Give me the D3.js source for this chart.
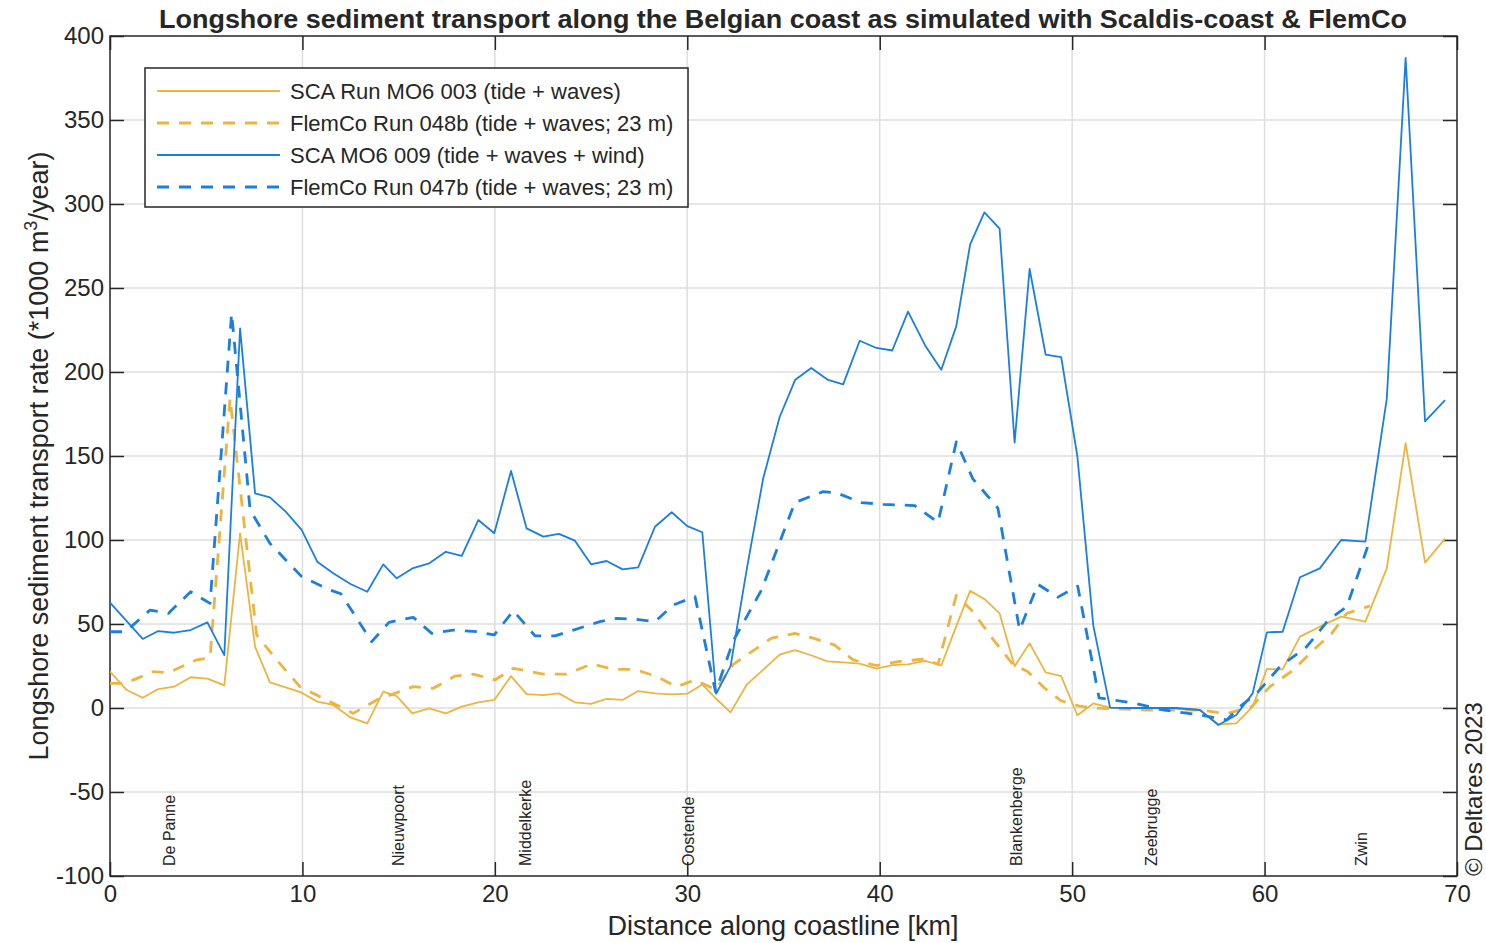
<!DOCTYPE html>
<html>
<head>
<meta charset="utf-8">
<script src="https://cdn.jsdelivr.net/npm/d3@7"></script>
<style>
  body { margin: 0; background: #fff; }
  text { font-family: "Liberation Sans", Arial, sans-serif; fill: #262626; }
</style>
</head>
<body>
<svg width="1486" height="943"></svg>
<script>
// chart values
const scaKm = [0, 0.87, 1.70, 2.51, 3.33, 4.19, 5.06, 5.94, 6.76, 7.54, 8.31, 9.13, 9.96, 10.77, 11.60, 12.5, 13.37, 14.20, 14.90, 15.71,
  16.59, 17.45, 18.28, 19.14, 19.97, 20.84, 21.65, 22.52, 23.33, 24.16, 25.0, 25.81, 26.64, 27.45, 28.32, 29.19, 30.0, 30.78, 31.5, 32.25,
  33.1, 33.94, 34.8, 35.6, 36.44, 37.28, 38.1, 38.96, 39.83, 40.65, 41.47, 42.36, 43.2, 43.98, 44.7, 45.44, 46.23, 47.01, 47.79, 48.62,
  49.43, 50.27, 51.1, 51.97, 52.8, 53.7, 54.5, 55.4, 56.64, 57.6, 58.53, 59.38, 60.12, 60.94, 61.84, 62.87, 63.98, 65.24, 66.35, 67.33,
  68.34, 69.38];
const scaWaves = [21.6, 10.7, 6.1, 11.3, 12.7, 18.3, 17.5, 13.5, 104, 36.5, 15.3, 12.3, 9.1, 3.8, 1.8, -5.6, -9.1, 9.7, 7.1, -3.2,
  -0.2, -3.2, 0.8, 3.4, 4.8, 19, 8.3, 7.7, 8.7, 3.4, 2.4, 5.4, 4.8, 10.1, 8.7, 8.1, 8.5, 14, 5.5, -2.6,
  14.1, 22.7, 31.8, 34.4, 31.4, 27.7, 27.1, 26.4, 23.4, 25.5, 26, 28.1, 25.3, 48.7, 69.7, 64.9, 56.3, 24.9, 38.5, 21.2,
  19, -4.3, 2.7, 0.2, 0, 0, 0, -0.5, -1.2, -9.7, -9.1, 0.8, 23.2, 23, 42.5, 48.4, 54.4, 51.4, 83.1, 157.6,
  86.5, 100.8];
const scaWind = [62.7, 51.7, 41.1, 45.8, 44.8, 46.4, 51, 31.5, 226, 127.8, 125.4, 116.9, 106, 87.1, 80.2, 73.8, 69.2, 85.5, 77.2, 83.1,
  86.1, 93, 90.5, 111.9, 104, 141.1, 106.9, 102, 103.6, 99.6, 85.5, 87.5, 82.5, 83.7, 107.9, 116.5, 108.3, 104.6, 8.5, 24.9,
  83.3, 136.4, 173.2, 195.2, 202.4, 195.5, 192.6, 218.6, 214.3, 212.8, 235.9, 215.8, 201.3, 227.3, 276, 295, 285.3, 158, 261.3, 210.4,
  208.9, 150, 49, 0.2, 0, 0, 0, 0, -1.2, -10.1, -4.2, 8.7, 45, 45.4, 77.8, 83.1, 100, 99, 184, 387,
  170.6, 183.3];

const flem048Km = [0, 0.78, 2.25, 3.03, 4.5, 5.2, 6.24, 7.62, 8.66, 9.87, 11.6, 12.64, 13.86, 14.55, 15.76, 16.8, 17.93, 18.88, 20.0, 20.96,
  22.52, 23.73, 25.03, 26.16, 27.28, 28.41, 29.45, 30.4, 31.47, 32.39, 33.08, 34.38, 35.59, 36.54, 37.66, 38.62, 39.83, 41.04, 42.34, 43.03,
  43.98, 44.84, 45.8, 46.92, 47.7, 48.56, 49.43, 50.38, 51.16, 53.9, 56.64, 58.03, 59.33, 60.28, 61.49, 62.53, 63.49, 64.27, 65.48];
const flem048 = [14.7, 14.7, 21.6, 21, 28.6, 30, 184.3, 43.5, 28.6, 12.7, 2.8, -3.2, 4.8, 7.7, 12.7, 11.7, 19, 20.2, 16.7, 23.6,
  20.2, 20.2, 26.2, 23, 23, 18.7, 12.7, 16.7, 11, 26, 31.4, 41.6, 44.4, 41.6, 37.4, 28.6, 25.3, 27.7, 29.2, 26,
  67.1, 57.4, 42.2, 26, 21.6, 11.9, 4.3, 1.1, 0, -1.2, -1.2, -3.4, 0.8, 12.7, 22.6, 34.5, 44.4, 56.3, 60.7];

const flem047Km = [0, 0.8, 2.08, 3.03, 4.19, 5.2, 6.32, 7.28, 8.31, 9.96, 11.43, 12.0, 13.6, 14.5, 15.76, 16.72, 17.84, 19.06, 19.97, 20.96,
  22.09, 23.13, 24.08, 25.46, 26.33, 27.37, 28.32, 29.27, 30.4, 31.47, 32.39, 33.86, 34.9, 35.59, 37.06, 37.75, 39.05, 40.17, 41.82, 43.03,
  43.98, 44.84, 46.14, 47.27, 48.22, 49.26, 50.29, 51.4, 53.27, 54.57, 56.64, 58.03, 58.72, 59.59, 60.8, 62.19, 63.32, 64.27, 65.45];
const flem047 = [45.4, 45.4, 58.3, 56.3, 69.2, 62.3, 234.9, 117.9, 98, 78.2, 70.2, 68, 39.5, 51, 54, 44.4, 46.4, 45.4, 43.5, 57.9,
  42.9, 42.9, 46.4, 51.4, 53.4, 52.8, 51.4, 61.3, 66.3, 9.5, 40, 70.3, 101.7, 122.3, 128.8, 128.1, 122.3, 121.2, 120.5, 110.4,
  158.4, 136.4, 119, 46.5, 73.6, 66, 72.5, 6, 2.8, -0.8, -4.2, -7.1, 0.8, 8.7, 24.6, 36.5, 52.4, 60.3, 99];

const places = ["De Panne", "Nieuwpoort", "Middelkerke", "Oostende", "Blankenberge", "Zeebrugge", "Zwin"];
const placeKm = [3.08, 14.96, 21.57, 30.06, 47.07, 54.12, 65.03];

const xTicks = [0, 10, 20, 30, 40, 50, 60, 70];
const yTicks = [-100, -50, 0, 50, 100, 150, 200, 250, 300, 350, 400];

const ORANGE = "#EDB440", BLUE = "#1A7FE0";
const series = [
  { name: "SCA Run MO6 003 (tide + waves)", km: scaKm, v: scaWaves, color: ORANGE, dash: null },
  { name: "FlemCo Run 048b (tide + waves; 23 m)", km: flem048Km, v: flem048, color: ORANGE, dash: "12,10" },
  { name: "SCA MO6 009 (tide + waves + wind)", km: scaKm, v: scaWind, color: BLUE, dash: null },
  { name: "FlemCo Run 047b (tide + waves; 23 m)", km: flem047Km, v: flem047, color: BLUE, dash: "12,10" },
];

const svg = d3.select("svg");
const mLeft = 110, mRight = 1457, mTop = 36, mBottom = 876;

const x = d3.scaleLinear().domain([0, 70]).range([mLeft, mRight]);
const y = d3.scaleLinear().domain([-100, 400]).range([mBottom, mTop]);

// grid
const grid = svg.append("g").attr("stroke", "#dedede").attr("stroke-width", 1.5);
grid.selectAll(".gx").data(xTicks.slice(1, -1)).enter().append("line")
  .attr("x1", d => x(d)).attr("x2", d => x(d)).attr("y1", mTop).attr("y2", mBottom);
grid.selectAll(".gy").data(yTicks.slice(1, -1)).enter().append("line")
  .attr("y1", d => y(d)).attr("y2", d => y(d)).attr("x1", mLeft).attr("x2", mRight);

// axes, ticks pointing inward
function styleAxis(g) {
  g.select(".domain").remove();
  g.selectAll(".tick line").attr("stroke", "#262626").attr("stroke-width", 1.5);
  g.selectAll("text").attr("fill", "#262626").style("font-family", '"Liberation Sans", Arial, sans-serif');
}
const plain = d => String(d);
svg.append("g").attr("transform", `translate(0,${mBottom})`)
  .call(d3.axisBottom(x).tickValues(xTicks).tickSize(-14).tickPadding(9).tickFormat(plain))
  .call(styleAxis).selectAll("text").attr("font-size", 24);
svg.append("g").attr("transform", `translate(0,${mTop})`)
  .call(d3.axisTop(x).tickValues(xTicks).tickSize(-14).tickFormat(""))
  .call(styleAxis);
svg.append("g").attr("transform", `translate(${mLeft},0)`)
  .call(d3.axisLeft(y).tickValues(yTicks).tickSize(-14).tickPadding(6).tickFormat(plain))
  .call(styleAxis).selectAll("text").attr("font-size", 24);
svg.append("g").attr("transform", `translate(${mRight},0)`)
  .call(d3.axisRight(y).tickValues(yTicks).tickSize(-14).tickFormat(""))
  .call(styleAxis);

svg.append("rect").attr("x", mLeft).attr("y", mTop).attr("width", mRight - mLeft).attr("height", mBottom - mTop)
  .attr("fill", "none").attr("stroke", "#262626").attr("stroke-width", 1.5);

// data lines
svg.append("clipPath").attr("id", "clip").append("rect")
  .attr("x", mLeft).attr("y", mTop).attr("width", mRight - mLeft).attr("height", mBottom - mTop);
const line = d3.line().x(d => x(d[0])).y(d => y(d[1]));
svg.append("g").attr("clip-path", "url(#clip)")
  .selectAll("path").data(series).enter().append("path")
  .attr("d", s => line(s.km.map((k, i) => [k, s.v[i]])))
  .attr("fill", "none")
  .attr("stroke", s => s.color)
  .attr("stroke-width", s => s.dash ? 2.8 : 1.8)
  .attr("stroke-dasharray", s => s.dash)
  .attr("stroke-linejoin", "round");

// place names
svg.append("g").selectAll("text").data(places).enter().append("text")
  .attr("transform", (d, i) => `translate(${x(placeKm[i]) + 6},866) rotate(-90)`)
  .attr("font-size", 16).attr("fill", "#000")
  .text(d => d);

// legend
const lg = svg.append("g").attr("transform", "translate(145,68)");
lg.append("rect").attr("width", 543).attr("height", 139)
  .attr("fill", "#fff").attr("stroke", "#262626").attr("stroke-width", 1.5);
const rows = lg.selectAll(".row").data(series).enter().append("g")
  .attr("transform", (d, i) => `translate(0,${23 + i * 32})`);
rows.append("line").attr("x1", 12).attr("x2", 135)
  .attr("stroke", d => d.color)
  .attr("stroke-width", d => d.dash ? 2.8 : 1.8)
  .attr("stroke-dasharray", d => d.dash);
rows.append("text").attr("x", 145).attr("dy", "0.35em").attr("font-size", 22).text(d => d.name);

// titles
svg.append("text").attr("x", 783).attr("y", 28).attr("text-anchor", "middle")
  .attr("font-size", 26).attr("font-weight", "bold").attr("fill", "#000")
  .attr("textLength", 1248).attr("lengthAdjust", "spacingAndGlyphs")
  .text("Longshore sediment transport along the Belgian coast as simulated with Scaldis-coast & FlemCo");

svg.append("text").attr("x", 783).attr("y", 935).attr("text-anchor", "middle")
  .attr("font-size", 27).text("Distance along coastline [km]");

const yl = svg.append("text").attr("transform", `translate(48,${(mTop + mBottom) / 2}) rotate(-90)`)
  .attr("text-anchor", "middle").attr("font-size", 27);
yl.append("tspan").text("Longshore sediment transport rate (*1000 m");
yl.append("tspan").attr("dy", -11).attr("font-size", 18).text("3");
yl.append("tspan").attr("dy", 11).text("/year)");

svg.append("text").attr("transform", "translate(1482,876) rotate(-90)")
  .attr("font-size", 24).attr("fill", "#000").text("© Deltares 2023");
</script>
</body>
</html>
